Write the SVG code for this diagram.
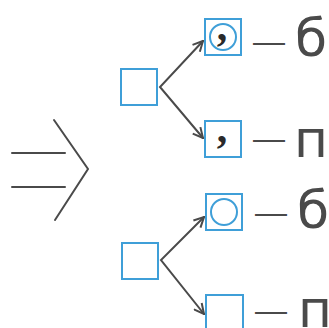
<svg xmlns="http://www.w3.org/2000/svg" width="329" height="328" viewBox="0 0 329 328">
<style>
.box{fill:none;stroke:#3f9fd8;stroke-width:2}
.ring{fill:none;stroke:#3f9fd8;stroke-width:2}
.ln{fill:none;stroke:#4a4a4a;stroke-width:2;stroke-linecap:round;stroke-linejoin:miter}
.lt{font-family:"DejaVu Sans",sans-serif;font-size:52px;fill:#4a4a4a}
.ds{font-family:"Liberation Sans",sans-serif;font-size:32px;fill:#4a4a4a}
.cm{font-family:"Liberation Serif",serif;font-weight:bold;font-size:42px;fill:#2a2a2a;text-anchor:middle}
</style>
<defs>
<marker id="ah" viewBox="0 0 12 12" refX="11" refY="6" markerWidth="12" markerHeight="12" markerUnits="userSpaceOnUse" orient="auto-start-reverse">
<path d="M1,1 L11,6 L1,11" fill="none" stroke="#4a4a4a" stroke-width="2"/>
</marker>
</defs>
<rect width="329" height="328" fill="#ffffff"/>
<g id="implies">
<line class="ln" x1="12" y1="153" x2="65" y2="153"/>
<line class="ln" x1="12" y1="187" x2="65" y2="187"/>
<polyline class="ln" points="54,120 88,169 55,220"/>
</g>
<g id="connectors">
<polyline class="ln" points="203,41 160,87 203,138" marker-start="url(#ah)" marker-end="url(#ah)"/>
<polyline class="ln" points="204,217 161,260 204,314" marker-start="url(#ah)" marker-end="url(#ah)"/>
</g>
<g id="node-a"><rect class="box" x="121" y="69" width="36" height="36"/></g>
<g id="node-a1">
<rect class="box" x="205" y="19" width="36" height="36"/>
<circle class="ring" cx="223" cy="37" r="13"/>
<text class="cm" x="222" y="40">,</text>
</g>
<g id="label-a1"><text class="ds" x="253" y="52">—</text><text class="lt" x="295" y="56">б</text></g>
<g id="node-a2">
<rect class="box" x="205" y="121" width="36" height="36"/>
<text class="cm" x="222" y="142">,</text>
</g>
<g id="label-a2"><text class="ds" x="253" y="149">—</text><text class="lt" x="294" y="157">п</text></g>
<g id="node-b"><rect class="box" x="122" y="243" width="36" height="36"/></g>
<g id="node-b1">
<rect class="box" x="206" y="194" width="36" height="36"/>
<circle class="ring" cx="224" cy="212" r="13"/>
</g>
<g id="label-b1"><text class="ds" x="255" y="223">—</text><text class="lt" x="297" y="228">б</text></g>
<g id="node-b2"><rect class="box" x="206" y="295" width="37" height="40"/></g>
<g id="label-b2"><text class="ds" x="255" y="321">—</text><text class="lt" x="298" y="327">п</text></g>
</svg>
